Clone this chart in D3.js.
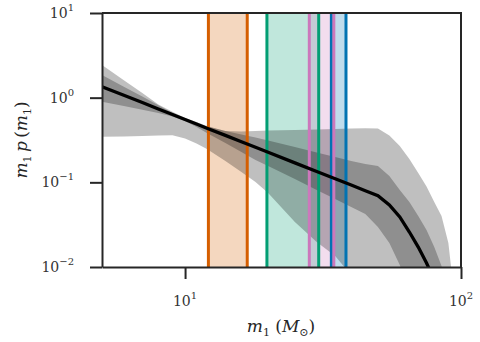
<!DOCTYPE html>
<html><head><meta charset="utf-8">
<script src="https://cdn.jsdelivr.net/npm/d3@7"></script>
<style>body{margin:0;background:#fff} svg{display:block} text{font-family:"DejaVu Serif", serif;}</style>
</head><body>
<svg id="c" width="480" height="342"></svg>
<script>
// ---- data ----
const masses = [5, 6, 7, 8, 9, 10, 11, 12, 14, 16, 18, 20, 25, 30, 35, 40, 45, 50, 55, 60, 65, 70, 75, 80, 85, 90, 95, 100];
const median = [1.348, 1.067, 0.875, 0.735, 0.633, 0.552, 0.489, 0.436, 0.3584, 0.302, 0.2593, 0.2263, 0.1697, 0.1343, 0.110, 0.0928, 0.0796, 0.0695, 0.054, 0.039, 0.0259, 0.0172, 0.01115, 0.00702, 0.004, 0.0025, 0.0015, 0.001];
const hi50 = [1.853, 1.344, 1.029, 0.813, 0.661, 0.560, 0.502, 0.4565, 0.404, 0.3673, 0.3385, 0.312, 0.2615, 0.225, 0.1992, 0.1786, 0.1647, 0.156, 0.1188, 0.0812, 0.0586, 0.040, 0.02735, 0.01723, 0.01028, 0.005, 0.002, 0.001];
const lo50 = [0.896, 0.795, 0.719, 0.659, 0.599, 0.530, 0.4503, 0.3825, 0.2915, 0.2282, 0.1836, 0.156, 0.1095, 0.0812, 0.0636, 0.0511, 0.0423, 0.0297, 0.0192, 0.01056, 0.005, 0.003, 0.002, 0.001, 0.001, 0.001, 0.001, 0.001];
const hi90 = [2.43, 1.604, 1.132, 0.833, 0.68, 0.575, 0.516, 0.463, 0.404, 0.3985, 0.404, 0.4096, 0.415, 0.4207, 0.4266, 0.4325, 0.4348, 0.4325, 0.3575, 0.2687, 0.1887, 0.1289, 0.0893, 0.0586, 0.040, 0.0192, 0.004, 0.001];
const lo90 = [0.346, 0.3488, 0.3526, 0.3565, 0.3603, 0.3295, 0.2875, 0.2476, 0.1786, 0.1325, 0.1009, 0.0748, 0.034, 0.01974, 0.01349, 0.008, 0.005, 0.003, 0.002, 0.0015, 0.001, 0.001, 0.001, 0.001, 0.001, 0.001, 0.001, 0.001];

const eventLow  = [12.15, 19.8, 33.9, 28.2];
const eventHigh = [16.8, 30.5, 38.3, 34.6];
const eventColors = ["#d55e00", "#029e73", "#0173b2", "#cc78bc"];

const xMajor = [10, 100];
const xMinor = [5, 6, 7, 8, 9, 20, 30, 40, 50, 60, 70, 80, 90];
const yMajor = [0.01, 0.1, 1, 10];
const yMinor = [];
[0.01, 0.1, 1].forEach(d => { for (let k = 2; k <= 9; k++) yMinor.push(d * k); });
const xTickLabels = ["1", "2"];
const yTickLabels = ["\u22122", "\u22121", "0", "1"];

// ---- layout ----
const L = 102, R = 461, T = 13, B = 267;
const x = d3.scaleLog().domain([5, 100]).range([L, R]);
const y = d3.scaleLog().domain([0.01, 10]).range([B, T]);
const svg = d3.select("#c");
const axisColor = "#262626";

svg.append("clipPath").attr("id", "clip").append("rect")
  .attr("x", L).attr("y", T).attr("width", R - L).attr("height", B - T);
const plot = svg.append("g").attr("clip-path", "url(#clip)");

// event bands
eventLow.forEach((lo, i) => {
  plot.append("rect").attr("x", x(lo)).attr("y", T)
    .attr("width", x(eventHigh[i]) - x(lo)).attr("height", B - T)
    .attr("fill", eventColors[i]).attr("fill-opacity", 0.25);
});

// credible regions
const rows = masses.map((m, i) => ({m, med: median[i], l5: lo50[i], h5: hi50[i], l9: lo90[i], h9: hi90[i]}));
const area90 = d3.area().x(d => x(d.m)).y0(d => y(d.l9)).y1(d => y(d.h9));
const area50 = d3.area().x(d => x(d.m)).y0(d => y(d.l5)).y1(d => y(d.h5));
plot.append("path").datum(rows).attr("d", area90).attr("fill", "#000").attr("fill-opacity", 0.25);
plot.append("path").datum(rows).attr("d", area50).attr("fill", "#000").attr("fill-opacity", 0.25);

// event lines
eventLow.forEach((lo, i) => {
  [lo, eventHigh[i]].forEach(v => {
    plot.append("line").attr("x1", x(v)).attr("x2", x(v)).attr("y1", T).attr("y2", B)
      .attr("stroke", eventColors[i]).attr("stroke-width", 3);
  });
});

// median
plot.append("path").datum(rows)
  .attr("d", d3.line().x(d => x(d.m)).y(d => y(d.med)))
  .attr("fill", "none").attr("stroke", "#000").attr("stroke-width", 3.3);

// frame (top/right)
svg.append("path").attr("d", `M${L},${T}H${R}V${B}`).attr("fill", "none")
  .attr("stroke", axisColor).attr("stroke-width", 2);

// axes
const gx = svg.append("g").attr("transform", `translate(0,${B})`);
gx.call(d3.axisBottom(x).tickValues(xMinor).tickSize(5).tickSizeOuter(0).tickFormat(""));
gx.call(d3.axisBottom(x).tickValues(xMajor).tickSize(12).tickSizeOuter(0).tickFormat(""));
const gy = svg.append("g").attr("transform", `translate(${L},0)`);
gy.call(d3.axisLeft(y).tickValues(yMinor).tickSize(6).tickSizeOuter(0).tickFormat(""));
gy.call(d3.axisLeft(y).tickValues(yMajor).tickSize(12).tickSizeOuter(0).tickFormat(""));
svg.selectAll(".domain").attr("stroke", axisColor).attr("stroke-width", 2);
svg.selectAll(".tick line").attr("stroke", axisColor).attr("stroke-width", 1.2);
gx.selectAll(".tick").filter(d => xMajor.includes(d)).select("line").attr("stroke-width", 2);
gy.selectAll(".tick").filter(d => yMajor.includes(d)).select("line").attr("stroke-width", 2);

function powLabel(sel, exp) {
  sel.append("tspan").text("10");
  sel.append("tspan").attr("font-size", 10).attr("dy", -7).text(exp);
}
xMajor.forEach((v, i) => {
  const t = svg.append("text").attr("x", x(v)).attr("y", 306).attr("text-anchor", "middle")
    .attr("font-size", 14).attr("fill", "#333");
  powLabel(t, xTickLabels[i]);
});
yMajor.forEach((v, i) => {
  const t = svg.append("text").attr("x", 74).attr("y", y(v) + 5).attr("text-anchor", "end")
    .attr("font-size", 14).attr("fill", "#333");
  powLabel(t, yTickLabels[i]);
});

// axis titles
const xt = svg.append("text").attr("x", 281).attr("y", 332).attr("text-anchor", "middle")
  .attr("font-size", 17).attr("fill", axisColor);
xt.append("tspan").attr("font-style", "italic").text("m");
xt.append("tspan").attr("font-size", 11).attr("dy", 4).text("1");
xt.append("tspan").attr("dy", -4).text("\u00a0(");
xt.append("tspan").attr("font-style", "italic").text("M");
xt.append("tspan").attr("font-size", 11).attr("dy", 4).text("\u2299");
xt.append("tspan").attr("dy", -4).text(")");

const yt = svg.append("text").attr("transform", `translate(27,${(T + B) / 2}) rotate(-90)`)
  .attr("text-anchor", "middle").attr("font-size", 17).attr("fill", axisColor);
yt.append("tspan").attr("font-style", "italic").text("m");
yt.append("tspan").attr("font-size", 11).attr("dy", 4).text("1");
yt.append("tspan").attr("dy", -4).attr("font-style", "italic").text("\u2009p\u2009");
yt.append("tspan").text("(");
yt.append("tspan").attr("font-style", "italic").text("m");
yt.append("tspan").attr("font-size", 11).attr("dy", 4).text("1");
yt.append("tspan").attr("dy", -4).text(")");
</script>
</body></html>
